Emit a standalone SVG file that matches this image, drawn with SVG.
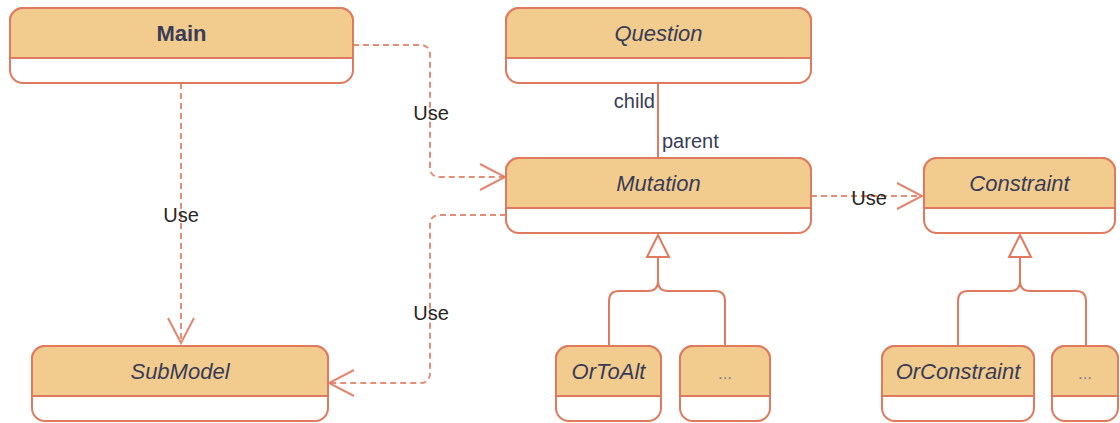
<svg xmlns="http://www.w3.org/2000/svg" width="1120" height="423" viewBox="0 0 1120 423">
  <style>
    .body { fill: #ffffff; stroke: #E07A5F; stroke-width: 2; }
    .head { fill: #F2CC8F; stroke: #E07A5F; stroke-width: 2; }
    .name { font-family: "Liberation Sans", Arial, sans-serif; font-size: 22px; font-style: italic; fill: #393C56; text-anchor: middle; }
    .bold { font-style: normal; font-weight: bold; }
    .dots { font-style: normal; font-size: 17px; fill: #7d7f8f; }
    .dep { fill: none; stroke: #E07A5F; stroke-opacity: 0.85; stroke-width: 2; stroke-dasharray: 6 4; }
    .solid { fill: none; stroke: #E07A5F; stroke-width: 2; }
    .lbl { font-family: "Liberation Sans", Arial, sans-serif; font-size: 20px; fill: #262626; }
    .role { font-family: "Liberation Sans", Arial, sans-serif; font-size: 20px; fill: #393C56; }
  </style>
  <defs>
    <marker id="open" markerUnits="userSpaceOnUse" markerWidth="32" markerHeight="32" viewBox="-28 -16 32 32" refX="0" refY="0" orient="auto">
      <path d="M-25,-13 L0,0 L-25,13" fill="none" stroke="#E07A5F" stroke-opacity="0.9" stroke-width="2"/>
    </marker>
  </defs>

  <!-- dependencies and associations -->
  <g id="connectors">
    <path class="dep" d="M181,83 V343" marker-end="url(#open)"/>
    <path class="dep" d="M353,45 H420 Q430,45 430,55 V167 Q430,177 440,177 H505" marker-end="url(#open)"/>
    <path class="dep" d="M506,215 H440 Q430,215 430,225 V373 Q430,383 420,383 H329" marker-end="url(#open)"/>
    <path class="dep" d="M811,196 H922" marker-end="url(#open)"/>
    <path class="solid" d="M658,83 V158"/>
    <!-- generalisation of Mutation -->
    <path class="solid" d="M609,346 V301 Q609,291 619,291 H648 Q658,291 658,281 V257"/>
    <path class="solid" d="M725,346 V301 Q725,291 715,291 H668 Q658,291 658,281 V257"/>
    <path class="solid" d="M658,235 L669,257 L647,257 Z" fill="#ffffff"/>
    <!-- generalisation of Constraint -->
    <path class="solid" d="M958,346 V301 Q958,291 968,291 H1010 Q1020,291 1020,281 V257"/>
    <path class="solid" d="M1086,346 V301 Q1086,291 1076,291 H1030 Q1020,291 1020,281 V257"/>
    <path class="solid" d="M1020,235 L1031,257 L1009,257 Z" fill="#ffffff"/>
    <text class="lbl" x="181" y="222" text-anchor="middle">Use</text>
    <text class="lbl" x="431" y="120" text-anchor="middle">Use</text>
    <text class="lbl" x="431" y="320" text-anchor="middle">Use</text>
    <text class="lbl" x="869" y="205" text-anchor="middle">Use</text>
    <text class="role" x="655" y="108" text-anchor="end">child</text>
    <text class="role" x="662" y="148">parent</text>
  </g>

  <g id="main">
    <rect class="body" x="10" y="8" width="343" height="75" rx="13"/>
    <path class="head" d="M10,58 V21 A13,13 0 0 1 23,8 H340 A13,13 0 0 1 353,21 V58 Z"/>
    <text class="name bold" x="181.5" y="41">Main</text>
  </g>

  <g id="question">
    <rect class="body" x="506" y="8" width="305" height="75" rx="13"/>
    <path class="head" d="M506,58 V21 A13,13 0 0 1 519,8 H798 A13,13 0 0 1 811,21 V58 Z"/>
    <text class="name" x="658.5" y="41">Question</text>
  </g>

  <g id="mutation">
    <rect class="body" x="506" y="158" width="305" height="75" rx="13"/>
    <path class="head" d="M506,208 V171 A13,13 0 0 1 519,158 H798 A13,13 0 0 1 811,171 V208 Z"/>
    <text class="name" x="658.5" y="191">Mutation</text>
  </g>

  <g id="constraint">
    <rect class="body" x="924" y="158" width="191" height="75" rx="13"/>
    <path class="head" d="M924,208 V171 A13,13 0 0 1 937,158 H1102 A13,13 0 0 1 1115,171 V208 Z"/>
    <text class="name" x="1019.5" y="191">Constraint</text>
  </g>

  <g id="submodel">
    <rect class="body" x="32" y="346" width="296" height="75" rx="13"/>
    <path class="head" d="M32,396 V359 A13,13 0 0 1 45,346 H315 A13,13 0 0 1 328,359 V396 Z"/>
    <text class="name" x="180" y="379">SubModel</text>
  </g>

  <g id="ortoalt">
    <rect class="body" x="556" y="346" width="105" height="75" rx="13"/>
    <path class="head" d="M556,396 V359 A13,13 0 0 1 569,346 H648 A13,13 0 0 1 661,359 V396 Z"/>
    <text class="name" x="608.5" y="379">OrToAlt</text>
  </g>

  <g id="mutation-more">
    <rect class="body" x="680" y="346" width="90" height="75" rx="13"/>
    <path class="head" d="M680,396 V359 A13,13 0 0 1 693,346 H757 A13,13 0 0 1 770,359 V396 Z"/>
    <text class="name dots" x="725" y="379">...</text>
  </g>

  <g id="orconstraint">
    <rect class="body" x="882" y="346" width="152" height="75" rx="13"/>
    <path class="head" d="M882,396 V359 A13,13 0 0 1 895,346 H1021 A13,13 0 0 1 1034,359 V396 Z"/>
    <text class="name" x="958" y="379">OrConstraint</text>
  </g>

  <g id="constraint-more">
    <rect class="body" x="1052" y="346" width="66" height="75" rx="13"/>
    <path class="head" d="M1052,396 V359 A13,13 0 0 1 1065,346 H1105 A13,13 0 0 1 1118,359 V396 Z"/>
    <text class="name dots" x="1085" y="379">...</text>
  </g>
</svg>
